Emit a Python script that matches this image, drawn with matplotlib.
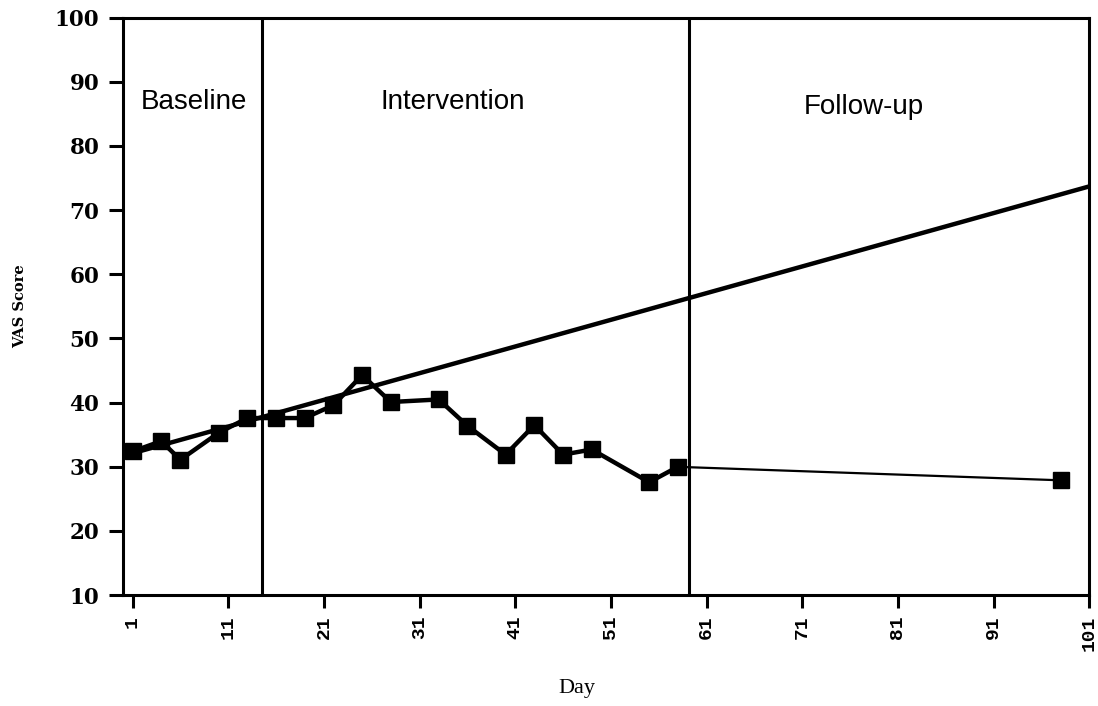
import matplotlib.pyplot as plt

# VAS scores per measured day
days = [1, 4, 6, 10, 13, 16, 19, 22, 25, 28, 33, 36, 40, 43, 46, 49, 55, 58]
scores = [32.4, 34.0, 31.1, 35.3, 37.6, 37.6, 37.6, 39.6, 44.3, 40.1, 40.5,
          36.4, 31.9, 36.5, 31.9, 32.7, 27.6, 30.0]

# follow-up measurement
followup_day = 98
followup_score = 27.9

# baseline trend line, drawn across the whole axis
trend_days = [0, 101]
trend_scores = [31.7, 73.7]

# phase change lines and labels
phase_breaks = [14.5, 59.2]
phase_names = ["Baseline", "Intervention", "Follow-up"]
phase_label_x = [7.4, 34.5, 77.4]
phase_label_y = [86.8, 86.8, 86.1]

x_ticks = list(range(1, 102, 10))
y_ticks = list(range(10, 101, 10))

fig = plt.figure(figsize=(10.98, 7.06), dpi=100)
ax = fig.add_axes([0.112, 0.157, 0.880, 0.818])

ax.plot(trend_days, trend_scores, color="black", lw=3.2, solid_capstyle="butt")
ax.plot(days, scores, color="black", lw=3.2, marker="s", markersize=11)
ax.plot([days[-1], followup_day], [scores[-1], followup_score],
        color="black", lw=1.6)
ax.plot([followup_day], [followup_score], color="black", marker="s",
        markersize=11, ls="none")

for b in phase_breaks:
    ax.axvline(b, color="black", lw=2.2)

for name, lx, ly in zip(phase_names, phase_label_x, phase_label_y):
    ax.text(lx, ly, name, ha="center", va="center", fontsize=20,
            family="Liberation Sans")

ax.set_xlim(0, 101)
ax.set_ylim(10, 100)
ax.set_xticks(x_ticks)
ax.set_yticks(y_ticks)
ax.set_xticklabels([str(t) for t in x_ticks], rotation=90,
                   family="Liberation Mono", fontweight="bold", fontsize=14)
ax.set_yticklabels([str(t) for t in y_ticks],
                   family="DejaVu Serif", fontweight="bold", fontsize=15.5)

for s in ax.spines.values():
    s.set_linewidth(2.2)
ax.tick_params(axis="y", direction="out", length=10, width=2.2, pad=7)
ax.tick_params(axis="x", direction="out", length=9, width=2.2, pad=6)

ax.set_xlabel("Day", family="Liberation Serif", fontsize=16, labelpad=20,
              x=0.47)
ax.set_ylabel("VAS Score", family="DejaVu Serif", fontweight="bold",
              fontsize=10.5, labelpad=20)

plt.savefig("out.png", dpi=100)
